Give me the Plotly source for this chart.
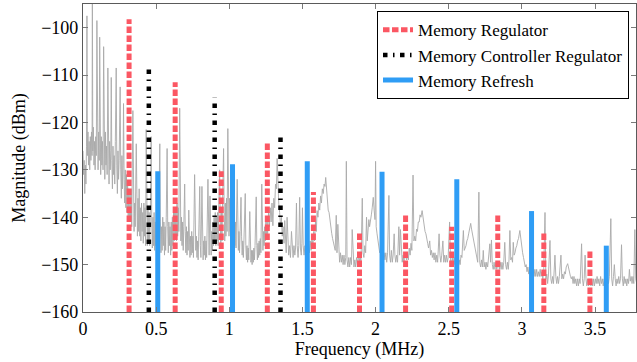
import plotly.graph_objects as go

# ---------------- data ----------------
spectrum_freq_mhz = [
    0.000, 0.004, 0.008, 0.012, 0.016, 0.020, 0.024, 0.027, 0.030, 0.034, 0.038, 0.042, 0.046, 0.050, 0.054, 0.058,
    0.062, 0.064, 0.067, 0.071, 0.075, 0.079, 0.083, 0.087, 0.091, 0.095, 0.099, 0.103, 0.107, 0.111, 0.114, 0.117,
    0.121, 0.125, 0.129, 0.133, 0.137, 0.141, 0.145, 0.149, 0.153, 0.157, 0.161, 0.165, 0.170, 0.174, 0.178, 0.182,
    0.186, 0.190, 0.193, 0.197, 0.201, 0.205, 0.209, 0.213, 0.217, 0.221, 0.227, 0.231, 0.235, 0.239, 0.243, 0.247,
    0.254, 0.258, 0.262, 0.266, 0.270, 0.274, 0.277, 0.281, 0.285, 0.289, 0.293, 0.297, 0.301,
    0.305, 0.309, 0.313, 0.317, 0.321, 0.325, 0.329, 0.333, 0.341, 0.345, 0.349, 0.353, 0.357, 0.364, 0.368, 0.372,
    0.376, 0.380, 0.384, 0.388, 0.392, 0.396, 0.400, 0.404, 0.408, 0.412, 0.416, 0.420, 0.424, 0.428, 0.432, 0.436,
    0.440, 0.444, 0.448, 0.452, 0.456, 0.460, 0.466, 0.470, 0.474, 0.478, 0.482, 0.486, 0.490, 0.494, 0.498, 0.502,
    0.506, 0.510, 0.514, 0.518, 0.525, 0.529, 0.533, 0.537, 0.541, 0.545, 0.549, 0.553, 0.557, 0.561, 0.565, 0.569,
    0.575, 0.579, 0.583, 0.587, 0.591, 0.595, 0.599, 0.603, 0.607, 0.611, 0.615, 0.619, 0.623, 0.627, 0.631, 0.635,
    0.639, 0.643, 0.647, 0.651, 0.655, 0.661, 0.665, 0.669, 0.673,
    0.677, 0.681, 0.685, 0.689, 0.695, 0.699, 0.703, 0.707, 0.711, 0.715, 0.719, 0.723, 0.727, 0.731, 0.735, 0.739,
    0.743, 0.747, 0.751, 0.755, 0.763, 0.767, 0.771, 0.775, 0.779, 0.783, 0.787, 0.791, 0.798, 0.802, 0.806, 0.813,
    0.817, 0.821, 0.825, 0.829, 0.833, 0.837, 0.841, 0.845, 0.854, 0.858, 0.862, 0.868, 0.872, 0.876, 0.880, 0.884,
    0.888, 0.892, 0.896, 0.900, 0.904, 0.908, 0.912, 0.916, 0.920, 0.924, 0.928, 0.934, 0.938, 0.942, 0.946, 0.950,
    0.954, 0.961, 0.965, 0.969, 0.973, 0.977, 0.981, 0.985, 0.990, 0.994, 0.998,
    1.002, 1.006, 1.010, 1.014, 1.018, 1.022, 1.026, 1.030, 1.034, 1.038, 1.042, 1.046, 1.054, 1.058, 1.062, 1.066,
    1.070, 1.074, 1.080, 1.084, 1.088, 1.092, 1.096, 1.100, 1.109, 1.113, 1.117, 1.121, 1.125, 1.129, 1.133, 1.140,
    1.144, 1.148, 1.152, 1.156, 1.160, 1.164, 1.168, 1.172, 1.176, 1.184, 1.188, 1.192, 1.196, 1.200, 1.204, 1.208,
    1.212, 1.216, 1.222, 1.226, 1.230, 1.234, 1.238, 1.242, 1.246, 1.250, 1.254, 1.258, 1.262,
    1.268, 1.274, 1.280, 1.286, 1.292, 1.298, 1.304, 1.310, 1.316, 1.322, 1.327, 1.332, 1.338, 1.344, 1.350, 1.356,
    1.362, 1.368, 1.374, 1.379, 1.384, 1.389, 1.395, 1.400, 1.406, 1.412, 1.418, 1.425, 1.430, 1.436, 1.442, 1.448,
    1.453, 1.459, 1.464, 1.470, 1.475, 1.481, 1.486, 1.492, 1.496, 1.500, 1.505, 1.511, 1.517, 1.523, 1.529, 1.535,
    1.541, 1.547, 1.553, 1.559, 1.565, 1.571, 1.577, 1.583, 1.589, 1.595, 1.600, 1.606, 1.612, 1.618, 1.624, 1.630,
    1.636, 1.642, 1.648, 1.654, 1.659, 1.664, 1.670, 1.676, 1.682, 1.688, 1.694, 1.700, 1.706, 1.712, 1.718, 1.724,
    1.731, 1.736, 1.742, 1.748, 1.754, 1.760, 1.766, 1.772, 1.778, 1.784, 1.790, 1.796, 1.800, 1.805, 1.811, 1.817,
    1.823, 1.829, 1.835, 1.840, 1.846, 1.852, 1.858, 1.864, 1.870, 1.876, 1.882, 1.888, 1.894, 1.900, 1.909, 1.914,
    1.920, 1.926, 1.932, 1.938, 1.943, 1.948, 1.954, 1.959, 1.965, 1.971, 1.977, 1.984, 1.990, 1.996, 2.000, 2.004,
    2.010, 2.016, 2.022, 2.028, 2.034, 2.040, 2.046, 2.052, 2.058, 2.064, 2.070, 2.076, 2.082, 2.091, 2.096, 2.102,
    2.108, 2.114, 2.120, 2.127, 2.132, 2.138, 2.144, 2.150, 2.159, 2.164, 2.170, 2.176, 2.182, 2.188, 2.194, 2.200,
    2.212, 2.218, 2.224, 2.230, 2.236, 2.242, 2.248, 2.256, 2.262, 2.268, 2.274, 2.280, 2.286, 2.292, 2.298, 2.304,
    2.310, 2.318, 2.326, 2.332, 2.338, 2.344, 2.350, 2.356, 2.362, 2.370, 2.376, 2.382, 2.388, 2.394, 2.400, 2.406,
    2.412, 2.418, 2.424, 2.434, 2.440, 2.446, 2.452, 2.460, 2.466, 2.472, 2.478, 2.484, 2.490, 2.496, 2.506, 2.512,
    2.518, 2.524, 2.530, 2.536, 2.542, 2.548, 2.554, 2.560, 2.566, 2.572, 2.578, 2.584, 2.590, 2.600, 2.606, 2.612,
    2.618, 2.624, 2.630, 2.636, 2.642, 2.650, 2.656, 2.662, 2.668, 2.674, 2.680, 2.686, 2.692, 2.698, 2.706, 2.712,
    2.718, 2.724, 2.730, 2.736, 2.742, 2.748, 2.754, 2.760, 2.766, 2.772, 2.781, 2.786, 2.792, 2.798, 2.804, 2.810,
    2.816, 2.822, 2.828, 2.840, 2.846, 2.852, 2.858, 2.864, 2.870, 2.876, 2.883, 2.889, 2.895, 2.901, 2.907, 2.912,
    2.918, 2.924, 2.930, 2.936, 2.941, 2.947, 2.953, 2.959, 2.965, 2.971, 2.977, 2.986, 2.993, 2.999, 3.005, 3.011,
    3.017, 3.023, 3.029, 3.035, 3.041, 3.047, 3.053, 3.059, 3.065, 3.071, 3.077, 3.083, 3.089, 3.095, 3.101, 3.107,
    3.113, 3.119, 3.125, 3.131, 3.137, 3.143, 3.149, 3.158, 3.164, 3.170, 3.176, 3.182, 3.192, 3.198, 3.204, 3.210,
    3.216, 3.226, 3.232, 3.238, 3.244, 3.250, 3.256, 3.267, 3.273, 3.279, 3.285, 3.291, 3.297, 3.303, 3.313, 3.320,
    3.326, 3.332, 3.338, 3.344, 3.350, 3.356, 3.362, 3.368, 3.374, 3.380, 3.386, 3.392, 3.398, 3.408, 3.414, 3.420,
    3.426, 3.432, 3.438, 3.444, 3.450, 3.456, 3.466, 3.472, 3.478, 3.484, 3.490, 3.496, 3.502, 3.508, 3.514, 3.520,
    3.526, 3.532, 3.538, 3.544, 3.550, 3.556, 3.562, 3.568, 3.574, 3.580, 3.586, 3.592, 3.598, 3.608, 3.614, 3.620,
    3.626, 3.632, 3.638, 3.644, 3.650, 3.656, 3.662, 3.668, 3.674, 3.681, 3.687, 3.693, 3.699, 3.705, 3.711, 3.717,
    3.723, 3.729, 3.735, 3.741, 3.747, 3.753, 3.759, 3.765, 3.772, 3.778, 3.785,
]
spectrum_dbm = [
    -126, -131, -128, -135, -129, -133, -125, -97.5, -127, -122, -129, -124, -130, -123, -128, -122,
    -127, -92, -126, -121, -129, -124, -130, -123, -127, -98.5, -125, -130, -122, -128, -102, -127,
    -131, -123, -129, -124, -130, -104, -126, -132, -122, -129, -125, -131, -108.5, -127, -133, -124,
    -130, -126, -110.5, -128, -134, -125, -131, -127, -133, -124, -108.5, -129, -135, -126, -132, -128,
    -112.5, -130, -136, -127, -134, -129, -116, -132, -137, -130, -138, -131, -139,
    -133, -140, -134, -141, -135, -140, -134, -142, -117.5, -136, -143, -137, -142, -124.5, -138, -144,
    -136, -143, -134, -144, -138, -145, -137, -143, -139, -145.5, -137, -144, -138, -146, -121.5, -140,
    -146, -138, -145, -139, -146, -140, -123, -141, -146.5, -140, -146, -139, -147, -141, -146, -140,
    -147, -141, -146, -140, -124.5, -141, -147.5, -142, -147, -140, -146, -141, -148, -142, -147, -140,
    -125.5, -142, -147.5, -141, -146, -142, -148, -141, -147, -140, -146, -139, -145, -138, -144, -138,
    -145, -137, -144, -138, -143, -117, -139, -145, -140,
    -146, -141, -147, -142, -133, -143, -147.5, -142, -148, -143, -147, -138.5, -146, -148.5, -144, -148,
    -143, -147.5, -144, -148.5, -131, -143, -147, -144, -148.5, -145, -149, -144, -133.5, -146, -148.5, -133.5,
    -145, -149, -145, -148, -144, -149, -145, -148.5, -132, -145, -148, -135.5, -146, -148, -143, -147,
    -141, -146, -140, -145, -139, -146, -140, -145, -139, -146, -138, -130, -141, -146, -138, -145,
    -137, -125.5, -139, -145, -137, -144, -136, -143, -121.3, -137, -144,
    -136, -143, -137, -144, -138, -145, -139, -145, -140, -146, -141, -146.5, -132, -142, -147, -143,
    -147.5, -143, -135.8, -144, -148, -145, -148.5, -145, -135, -146, -149, -146, -149.5, -146.5, -149, -138.8,
    -147, -149.5, -147, -150, -147, -149.5, -146.5, -149, -146, -135.7, -146, -149, -145.5, -148.5, -145, -148,
    -144.5, -147.5, -133, -144, -147, -143, -146, -142, -145, -141, -144, -140, -143.5,
    -139, -142, -138, -141, -137, -141.8, -136, -138, -133, -134, -127.6, -133, -137, -139, -142, -140,
    -144, -142, -145.5, -140.7, -146, -147.5, -140, -146, -148, -146, -148.5, -143, -146.5, -148.5, -146, -148,
    -146.5, -137, -146, -148.5, -146, -135.8, -146.5, -148, -145.5, -138, -146, -148, -146, -148, -146, -148,
    -145.5, -147.5, -145, -147, -144, -146.5, -143, -145, -141, -143, -138.6, -140, -137, -138.5, -135.5, -137,
    -134, -135, -133, -133.5, -131.6, -134, -136, -138.5, -139, -141, -142, -143.4, -144.5, -145.3, -146.5, -147,
    -139.6, -147.5, -141.5, -148, -149.5, -147.5, -149.5, -148, -150, -148, -150, -148.5, -128.2, -149, -150.5, -148.5,
    -150.5, -148.5, -150, -142.6, -148.5, -150.5, -149, -150.5, -148.5, -150, -148, -149.5, -148, -149.5, -136, -147.5,
    -148.5, -146, -147.5, -140, -145, -143.5, -140.5, -142, -140, -139.5, -138, -135.8, -138.5, -140.5, -128.2, -142,
    -143.5, -145, -146, -147.5, -147, -148.5, -147.5, -149, -147.5, -149, -147.5, -149.5, -147.5, -135.4, -148, -149.5,
    -147, -149.5, -148, -143.5, -148, -149.5, -148, -149.5, -142, -148, -142.6, -148.5, -149.5, -148, -149.5, -147.5,
    -149, -147.5, -149, -146.5, -148, -145.5, -147, -131.1, -145, -144, -145, -142.5, -143, -141, -141, -139.5,
    -140, -138.6, -140.5, -141, -143, -143.5, -145, -145.5, -146.5, -145, -148, -147, -148.5, -147.5, -149, -147.5,
    -149.5, -148, -149.5, -143.5, -148, -149.5, -148, -145, -149.5, -148, -149.5, -148, -149.5, -148.5, -141, -149,
    -150, -148.5, -150, -148.5, -150, -148.5, -150, -148.5, -150.5, -149, -150, -148, -148.5, -142.8, -147, -146.5,
    -146, -145, -144.5, -143.5, -142.5, -141.3, -142.5, -143.5, -145, -146, -147, -148, -148.5, -149.5, -134.7, -149.5,
    -150.5, -149, -150.5, -147, -150.5, -149.5, -151, -149.5, -150.5, -149, -145.6, -149.5, -144.8, -150, -151, -149.5,
    -151, -149.5, -151, -149.5, -151, -149.5, -151, -149.5, -151, -149.5, -145.3, -150, -151, -149.5, -151, -149,
    -142.8, -149, -148.5, -149.5, -145.3, -148, -147.5, -146.5, -146, -145, -144.5, -142.8, -145, -146, -147.5, -148.5,
    -149.5, -150.5, -150, -151.5, -150.5, -152, -150.5, -152, -150.5, -152, -151, -152.5, -151, -152.5, -151, -152.5,
    -151.5, -152.5, -151, -152.5, -151.5, -153, -151.5, -139, -153, -152, -154, -152, -144.9, -153, -154, -152.5,
    -154, -148, -152.5, -154, -152.5, -154, -152.5, -148, -153, -152, -153, -151.5, -152, -150.5, -149.8, -151,
    -151.5, -152.5, -153, -152.5, -154, -152.5, -154, -153, -154.5, -153, -154.5, -153, -154, -145.6, -153, -154.5,
    -153, -148, -153, -154.5, -153, -154.5, -153, -154.5, -153, -154.5, -153, -154.5, -153, -154, -152.5, -154,
    -153, -154.5, -152.5, -154, -153, -154.5, -153, -154, -153, -154.5, -153, -154, -152.5, -140.3, -153, -154.5,
    -152.5, -150, -153, -154.5, -153, -154, -152.5, -154, -153, -145.8, -153, -154.5, -152.5, -154, -153, -154.5,
    -153, -154, -151, -153.5, -152.5, -154, -152.5, -154, -142.6, -153, -154,
]

regulator_freq_mhz = [0.315, 0.630, 0.945, 1.260, 1.575, 1.890, 2.205, 2.520, 2.835, 3.150, 3.465]
regulator_dbm = [-98.2, -111.5, -130.3, -124.2, -134.7, -143.1, -139.3, -142.0, -139.5, -143.1, -146.7]

controller_freq_mhz = [0.450, 0.900, 1.350]
controller_dbm = [-107.9, -114.8, -122.3]

refresh_freq_mhz = [0.511, 1.022, 1.533, 2.044, 2.555, 3.066, 3.577]
refresh_dbm = [-130.3, -128.8, -128.2, -130.4, -132.0, -138.7, -146.0]

floor_dbm = -160
x_ticks = [0, 0.5, 1, 1.5, 2, 2.5, 3, 3.5]
x_tick_labels = ["0", "0.5", "1", "1.5", "2", "2.5", "3", "3.5"]
y_ticks = [-160, -150, -140, -130, -120, -110, -100]
y_tick_labels = ["−160", "−150", "−140", "−130", "−120", "−110", "−100"]


def stems(freqs, tops):
    xs, ys = [], []
    for f, t in zip(freqs, tops):
        xs += [f, f, None]
        ys += [floor_dbm, t, None]
    return xs, ys


FONT = "'Liberation Serif', 'DejaVu Serif', serif"
FS = 18
LFS = 17
fig = go.Figure()

fig.add_trace(go.Scatter(
    x=spectrum_freq_mhz, y=spectrum_dbm, mode="lines",
    line=dict(color="#a9a9a9", width=0.9), showlegend=False, hoverinfo="skip"))

rx, ry = stems(regulator_freq_mhz, regulator_dbm)
fig.add_trace(go.Scatter(x=rx, y=ry, mode="lines", name="Memory Regulator",
                         line=dict(color="#fb5763", width=5, dash="6.5px,2.5px")))
cx, cy = stems(controller_freq_mhz, controller_dbm)
fig.add_trace(go.Scatter(x=cx, y=cy, mode="lines", name="Memory Controller Regulator",
                         line=dict(color="black", width=4.5, dash="4.5px,5.5px,1.5px,5.5px")))
bx, by = stems(refresh_freq_mhz, refresh_dbm)
fig.add_trace(go.Scatter(x=bx, y=by, mode="lines", name="Memory Refresh",
                         line=dict(color="#2f9df5", width=5)))

axis_common = dict(showgrid=False, zeroline=False, showline=True, linecolor="#5a5a5a",
                   linewidth=1.2, mirror="allticks", ticks="inside", ticklen=5,
                   tickcolor="#7a7a7a", automargin=False,
                   tickfont=dict(family=FONT, size=FS, color="black"))

fig.update_layout(
    width=637, height=362,
    margin=dict(l=83, r=1, t=4, b=50, autoexpand=False),
    paper_bgcolor="white", plot_bgcolor="white",
    font=dict(family=FONT, size=FS, color="black"),
    xaxis=dict(range=[0, 3.78], tickvals=x_ticks, ticktext=x_tick_labels,
               title=dict(text="Frequency (MHz)", font=dict(family=FONT, size=FS), standoff=3),
               **axis_common),
    yaxis=dict(range=[-160, -95], tickvals=y_ticks, ticktext=y_tick_labels,
               title=dict(text="Magnitude (dBm)", font=dict(family=FONT, size=FS), standoff=10),
               **axis_common),
    legend=dict(x=0.987, y=0.977, xanchor="right", yanchor="top",
                bgcolor="white", bordercolor="black", borderwidth=1.2,
                font=dict(family=FONT, size=LFS, color="black"),
                itemwidth=30, tracegroupgap=0),
    showlegend=True,
)

fig.write_html("out.html", post_script="document.body.style.margin='0px';",
               config={"displayModeBar": False})
